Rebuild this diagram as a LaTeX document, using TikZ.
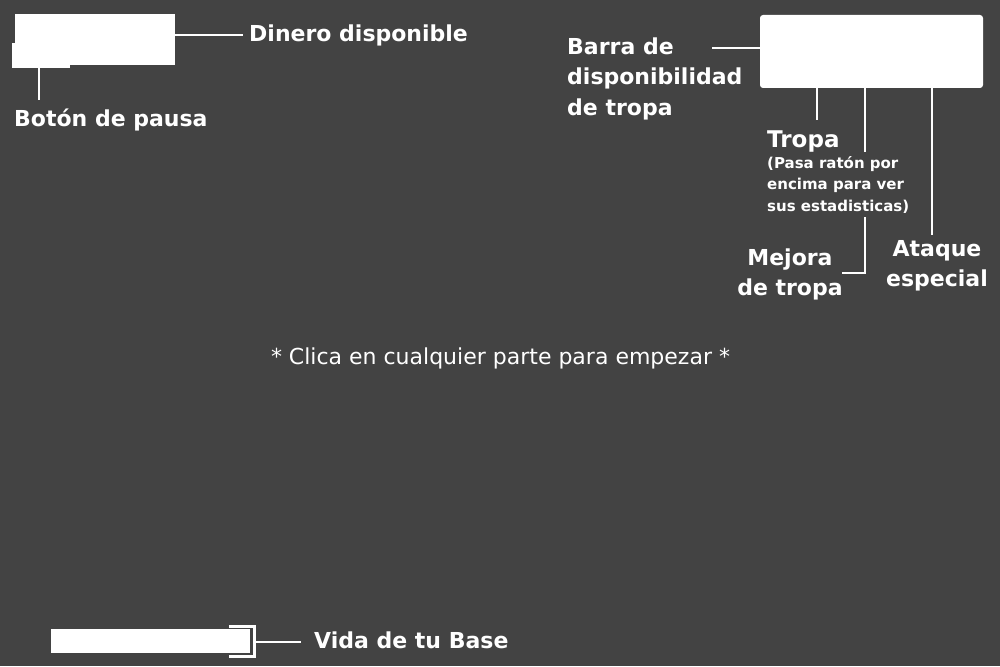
\documentclass[tikz,border=0pt]{standalone}
\usepackage{fontspec}
\setmainfont{DejaVu Sans}
\newfontfamily\lab{DejaVu Sans}
\definecolor{bg}{HTML}{434343}
\begin{document}
\begin{tikzpicture}[x=1pt,y=-1pt,
  wbox/.style={fill=white, draw=none, inner sep=0},
  ln/.style={draw=white, line width=2.6pt},
  big/.style={text=white, inner sep=0, font=\lab\bfseries\fontsize{22}{30.5}\selectfont},
  small/.style={text=white, inner sep=0, font=\lab\bfseries\fontsize{15}{21.5}\selectfont},
  plain/.style={text=white, inner sep=0, font=\lab\fontsize{22}{26}\selectfont}]
\fill[bg] (0,0) rectangle (1000,666);
\useasboundingbox (0,0) rectangle (1000,666);
% top-left
\node[wbox, minimum width=160, minimum height=51] (money) at (95,39.5) {};
\node[wbox, minimum width=58, minimum height=25] (pause) at (41,55.5) {};
\node[big, anchor=west] (dinero) at (249,35) {Dinero disponible};
\node[big, anchor=west] (pausetxt) at (14,120) {Botón de pausa};
\coordinate (pauseend) at (39,100);
\coordinate (dineroend) at (243,35);
\draw[ln] (money.east |- dineroend) -- (dineroend);
\draw[ln] (pause.south -| pauseend) -- (pauseend);
% top-right
\node[wbox, rounded corners=3pt, minimum width=223, minimum height=73] (barra) at (871.5,51.5) {};
\node[big, anchor=north west, align=left] (barratxt) at (567,37.5) {Barra de\\disponibilidad\\de tropa};
\coordinate (barraend) at (712,48);
\draw[ln] (barraend) -- (barra.west |- barraend);
\node[big, anchor=west, font=\lab\bfseries\fontsize{23}{30}\selectfont] (tropa) at (767,141.5) {Tropa};
\node[small, anchor=north west, align=left] (tropainfo) at (767,156) {(Pasa ratón por\\encima para ver\\sus estadisticas)};
\node[big, align=center] (mejora) at (790,274.5) {Mejora\\de tropa};
\node[big, align=center] (ataque) at (937,266) {Ataque\\especial};
\coordinate (t1) at (817,120);
\coordinate (t2a) at (865,152);
\coordinate (t2b) at (865,217);
\coordinate (t2c) at (865,273);
\coordinate (t2d) at (842,273);
\coordinate (t3) at (932,235);
\draw[ln] (barra.south -| t1) -- (t1);
\draw[ln] (barra.south -| t2a) -- (t2a);
\draw[ln] (t2b) -- (t2c) -- (t2d);
\draw[ln] (barra.south -| t3) -- (t3);
% centre
\node[plain] (start) at (500.5,358) {* Clica en cualquier parte para empezar *};
% bottom
\node[wbox, minimum width=199, minimum height=24] (vida) at (150.5,641) {};
\coordinate (br1) at (229,626.5);
\coordinate (br2) at (254.5,626.5);
\coordinate (br3) at (254.5,656.5);
\coordinate (br4) at (229,656.5);
\draw[ln, line width=3pt] (br1) -- (br2) -- (br3) -- (br4);
\node[big, anchor=west] (vidatxt) at (314,640) {Vida de tu Base};
\coordinate (vidaend) at (301,642);
\draw[ln] (br2 |- vidaend) -- (vidaend);
\end{tikzpicture}
\end{document}
